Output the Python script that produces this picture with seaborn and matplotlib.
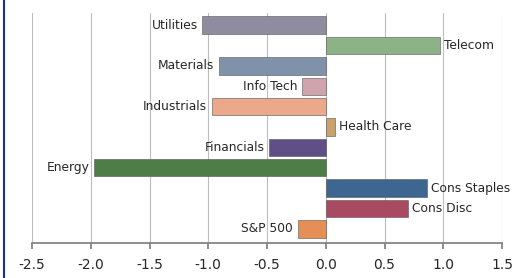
import matplotlib
matplotlib.use("Agg")
import matplotlib.pyplot as plt
import seaborn as sns
import pandas as pd
from matplotlib.lines import Line2D

# sector returns
sectors = ["Utilities", "Telecom", "Materials", "Info Tech", "Industrials",
           "Health Care", "Financials", "Energy", "Cons Staples", "Cons Disc",
           "S&P 500"]
values = [-1.05, 0.97, -0.91, -0.20, -0.97, 0.08, -0.48, -1.97, 0.86, 0.70, -0.24]
colors = ["#8f8c9f", "#8db287", "#8092aa", "#cfa4ad", "#eba98a", "#c9a16c",
          "#5f4f86", "#4f7d48", "#3d6690", "#aa4a62", "#e58f57"]
xticks = [-2.5, -2.0, -1.5, -1.0, -0.5, 0.0, 0.5, 1.0, 1.5]

sns.set_theme(style="white")
plt.rcParams["font.family"] = ["DejaVu Sans"]

df = pd.DataFrame({"sector": sectors, "value": values})

fig = plt.figure(figsize=(5.12, 2.78), dpi=100)
ax = fig.add_axes([0.0625, 0.126, 0.918, 0.827])

sns.barplot(data=df, x="value", y="sector", hue="sector", palette=colors,
            order=sectors, hue_order=sectors, orient="h", width=0.85,
            legend=False, ax=ax, saturation=1)
for patch in ax.patches:
    patch.set_edgecolor("#555555")
    patch.set_linewidth(0.4)

for i, (name, v) in enumerate(zip(sectors, values)):
    if v < 0:
        ax.text(v - 0.04, i, name, ha="right", va="center", fontsize=8.8)
    else:
        ax.text(v + 0.035, i, name, ha="left", va="center", fontsize=8.8)

ax.set_xlim(-2.5, 1.5)
ax.set_ylim(10.69, -0.59)
ax.set_xticks(xticks)
ax.set_xticklabels([f"{t:.1f}" for t in xticks], fontsize=10)
ax.set_yticks([])
ax.set_xlabel("")
ax.set_ylabel("")
ax.grid(axis="x", color="#bdbdbd", linewidth=0.8)
ax.set_axisbelow(True)
for s in ["left", "right", "top"]:
    ax.spines[s].set_visible(False)
ax.spines["bottom"].set_color("#808080")
ax.tick_params(axis="x", direction="out", length=4, color="#808080", bottom=True, pad=7)

fig.add_artist(Line2D([0.008, 0.008], [0, 1], color="#1f2f8a", linewidth=1.5,
                      transform=fig.transFigure))

fig.savefig("out.png", dpi=100)
